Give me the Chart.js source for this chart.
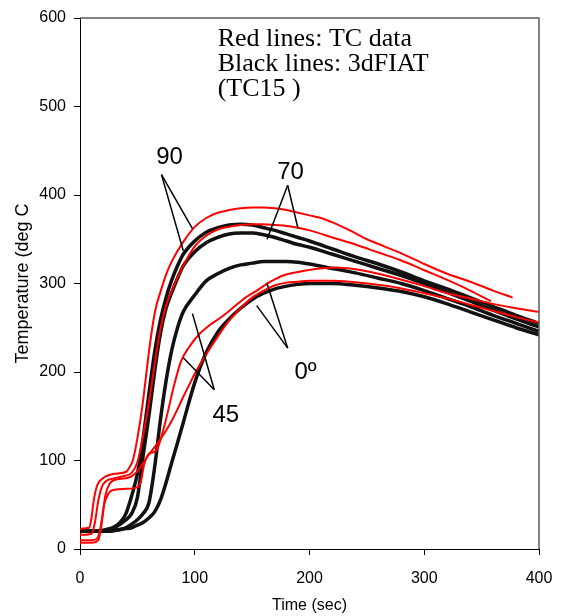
<!DOCTYPE html>
<html>
<head>
<meta charset="utf-8">
<title>Temperature vs time</title>
<script src="https://cdn.jsdelivr.net/npm/chart.js@4.4.1/dist/chart.umd.min.js"></script>
<style>
  html, body { margin: 0; padding: 0; background: #fff; overflow: hidden; }
  canvas { display: block; }
</style>
</head>
<body>
<canvas id="chart" width="561" height="616"></canvas>
<script>
"use strict";

// 3dFIAT model output (black), shared time steps
const timeModel = [0, 10, 20, 30, 35, 40, 45, 50, 55, 60, 65, 70, 75, 80, 85, 90, 100, 110, 120, 130, 140, 150, 160, 170, 180, 190, 200, 220, 240, 260, 280, 300, 320, 340, 360, 380, 400];
const model90 = [20, 20, 21, 25, 30, 40, 60, 85, 125, 175, 222, 258, 284, 304, 320, 333, 348, 358, 363, 366, 367, 366, 363, 360, 356, 352, 348, 339, 330, 322, 313, 303, 294, 284, 274, 264, 255];
const model70 = [20, 20, 21, 24, 28, 33, 40, 58, 105, 150, 200, 243, 272, 290, 306, 320, 336, 346, 352, 356, 357, 357, 355, 352, 348, 344, 341, 333, 325, 317, 309, 300, 290, 280, 270, 260, 251];
const model45 = [20, 20, 20, 21, 22, 24, 28, 33, 40, 52, 92, 145, 190, 225, 250, 268, 287, 303, 311, 317, 321, 323, 325, 325, 325, 324, 322, 317, 312, 306, 300, 292, 283, 274, 264, 255, 246];
const model0 = [20, 20, 20, 21, 22, 23, 24, 27, 30, 35, 42, 55, 75, 98, 120, 143, 188, 222, 245, 260, 272, 282, 289, 294, 297, 299, 300, 300, 298, 295, 291, 285, 277, 268, 259, 250, 242];

// TC measurements (red)
const timeTc90 = [0, 8, 10, 12, 15, 20, 30, 40, 43, 46, 50, 55, 60, 63, 66, 70, 75, 80, 90, 100, 110, 120, 130, 140, 150, 160, 170, 180, 190, 200, 210, 220, 235, 250, 265, 280, 300, 320, 340, 360, 377];
const tc90 = [23, 24, 35, 55, 72, 80, 85, 87, 92, 100, 125, 168, 222, 250, 272, 290, 310, 325, 347, 364, 374, 380, 383, 385, 386, 386, 385, 383, 380, 377, 374, 369, 360, 350, 342, 334, 322, 311, 302, 292, 284];
const timeTc70 = [0, 10, 13, 16, 19, 22, 30, 40, 45, 50, 55, 60, 65, 70, 75, 80, 90, 100, 110, 120, 130, 140, 150, 160, 170, 180, 190, 200, 220, 240, 260, 280, 300, 320, 340, 358];
const tc70 = [16, 17, 30, 55, 70, 76, 80, 83, 86, 98, 128, 165, 208, 248, 275, 292, 320, 342, 354, 361, 364, 366, 367, 367, 366, 365, 363, 360, 352, 344, 335, 326, 315, 304, 292, 280];
const timeTc45 = [0, 10, 15, 18, 21, 25, 30, 40, 50, 53, 56, 59, 63, 67, 72, 76, 82, 88, 95, 104, 112, 122, 130, 142, 154, 166, 177, 190, 209, 223, 240, 260, 278, 300, 320, 340, 360, 380, 400];
const tc45 = [10, 10, 12, 25, 50, 63, 67, 68, 70, 76, 96, 106, 109, 112, 132, 152, 185, 212, 228, 243, 252, 261, 269, 282, 292, 302, 309, 313, 317, 318, 316, 311, 305, 297, 289, 283, 277, 272, 268];
const timeTc0 = [0, 10, 16, 19, 22, 26, 30, 40, 45, 50, 55, 60, 65, 70, 75, 80, 85, 90, 95, 100, 110, 120, 130, 140, 150, 160, 170, 180, 190, 200, 210, 220, 235, 250, 278, 300, 320, 340, 360, 380, 400];
const tc0 = [7, 7, 10, 30, 60, 74, 78, 80, 82, 88, 97, 107, 115, 124, 134, 145, 158, 172, 185, 198, 220, 240, 258, 272, 284, 292, 298, 301, 302, 303, 303, 303, 302, 300, 295, 289, 283, 276, 269, 262, 256];

const xTicks = [0, 100, 200, 300, 400];
const yTicks = [0, 100, 200, 300, 400, 500, 600];

const noteLines = ['Red lines: TC data', 'Black lines: 3dFIAT', '(TC15 )'];
// angle labels with their pointer lines, in data units
const angleNotes = [
    { text: '90', at: [78, 442], from: [71, 423], to: [[98, 362], [90, 337]] },
    { text: '70', at: [183.5, 426], from: [181, 411], to: [[163, 350], [190, 362]] },
    { text: '0º', at: [196.5, 200], from: [181, 227], to: [[163, 300], [154, 275]] },
    { text: '45', at: [127, 151], from: [117, 180], to: [[98, 266], [90, 216]] }
];

const SANS = '"Liberation Sans", Arial, sans-serif';
const SERIF = '"Liberation Serif", "Times New Roman", serif';

function pts(xs, ys) {
    return xs.map((x, i) => ({ x: x, y: ys[i] }));
}

function series(xs, ys, color, width) {
    return {
        data: pts(xs, ys),
        borderColor: color,
        borderWidth: width,
        pointRadius: 0,
        fill: false,
        cubicInterpolationMode: 'monotone'
    };
}

const overlay = {
    id: 'overlay',
    afterDatasetsDraw(chart) {
        const { ctx, chartArea: a, scales: { x, y } } = chart;
        ctx.save();

        // top and right frame
        ctx.strokeStyle = '#5a5a5a';
        ctx.lineWidth = 1.5;
        ctx.beginPath();
        ctx.moveTo(a.left, a.top);
        ctx.lineTo(a.right, a.top);
        ctx.lineTo(a.right, a.bottom);
        ctx.stroke();

        // pointer lines + angle labels
        ctx.strokeStyle = '#000';
        ctx.lineWidth = 1.5;
        angleNotes.forEach(n => {
            const fx = x.getPixelForValue(n.from[0]);
            const fy = y.getPixelForValue(n.from[1]);
            n.to.forEach(t => {
                ctx.beginPath();
                ctx.moveTo(fx, fy);
                ctx.lineTo(x.getPixelForValue(t[0]), y.getPixelForValue(t[1]));
                ctx.stroke();
            });
        });
        ctx.fillStyle = '#000';
        ctx.font = '24px ' + SANS;
        ctx.textAlign = 'center';
        ctx.textBaseline = 'middle';
        angleNotes.forEach(n => {
            ctx.fillText(n.text, x.getPixelForValue(n.at[0]), y.getPixelForValue(n.at[1]));
        });

        // text note in the top of the plot
        ctx.font = '26px ' + SERIF;
        ctx.textAlign = 'left';
        ctx.textBaseline = 'alphabetic';
        const nx = x.getPixelForValue(120);
        const ny = y.getPixelForValue(568);
        noteLines.forEach((s, i) => ctx.fillText(s, nx, ny + i * 25));

        ctx.restore();
    }
};

new Chart(document.getElementById('chart'), {
    type: 'line',
    data: {
        datasets: [
            series(timeTc90, tc90, '#ff0000', 2),
            series(timeTc70, tc70, '#ff0000', 2),
            series(timeTc45, tc45, '#ff0000', 2),
            series(timeTc0, tc0, '#ff0000', 2),
            series(timeModel, model90, '#111111', 3.5),
            series(timeModel, model70, '#111111', 3.5),
            series(timeModel, model45, '#111111', 3.5),
            series(timeModel, model0, '#111111', 3.5)
        ]
    },
    options: {
        responsive: false,
        animation: false,
        layout: { padding: { top: 18, right: 22, left: 0, bottom: 0 } },
        plugins: {
            legend: { display: false },
            tooltip: { enabled: false }
        },
        scales: {
            x: {
                type: 'linear',
                min: 0,
                max: 400,
                afterBuildTicks: s => { s.ticks = xTicks.map(v => ({ value: v })); },
                afterFit: s => {
                    s.height = 67;
                    s.paddingLeft = 0;
                    s.paddingRight = 0;
                },
                ticks: { color: '#000', font: { family: SANS, size: 16 }, padding: 14, maxRotation: 0 },
                grid: { drawOnChartArea: false, color: '#000', tickLength: 6 },
                border: { color: '#000', width: 1 },
                title: {
                    display: true,
                    text: 'Time (sec)',
                    color: '#000',
                    font: { family: SANS, size: 16 },
                    padding: { top: 0, bottom: 1 }
                }
            },
            y: {
                min: 0,
                max: 600,
                afterBuildTicks: s => { s.ticks = yTicks.map(v => ({ value: v })); },
                afterFit: s => {
                    s.width = 80;
                    s.paddingTop = 0;
                    s.paddingBottom = 0;
                },
                ticks: { color: '#000', font: { family: SANS, size: 16 }, padding: 8 },
                grid: { drawOnChartArea: false, color: '#000', tickLength: 6 },
                border: { color: '#000', width: 1 },
                title: {
                    display: true,
                    text: 'Temperature (deg C',
                    color: '#000',
                    font: { family: SANS, size: 18 },
                    padding: { top: 12, bottom: 0 }
                }
            }
        }
    },
    plugins: [overlay]
});
</script>
</body>
</html>
